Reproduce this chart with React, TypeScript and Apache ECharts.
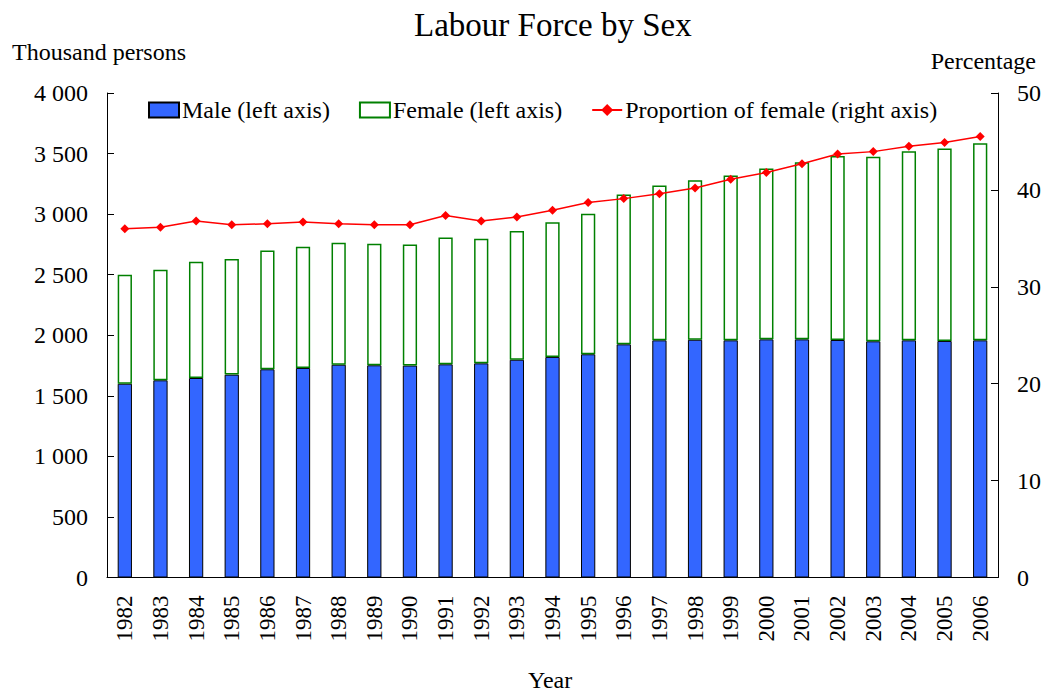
import React, { useEffect, useRef } from "react";
import * as echarts from "echarts";

const years = ["1982","1983","1984","1985","1986","1987","1988","1989","1990","1991","1992","1993","1994","1995","1996","1997","1998","1999","2000","2001","2002","2003","2004","2005","2006"];
const male = [1600,1628,1647,1675,1719,1730,1757,1752,1750,1760,1768,1798,1821,1843,1925,1958,1963,1958,1966,1966,1961,1950,1958,1953,1958];
const female = [900,913,960,954,981,1001,1007,1003,1000,1048,1029,1062,1111,1160,1237,1279,1317,1361,1411,1463,1518,1523,1562,1589,1628];
const proportion = [36.0,36.15,36.8,36.4,36.5,36.7,36.5,36.4,36.4,37.35,36.8,37.2,37.9,38.7,39.1,39.6,40.2,41.1,41.8,42.7,43.7,43.95,44.5,44.9,45.5];

const FONT = "'Liberation Serif', 'Times New Roman', serif";

function fmtThousands(v: number): string {
  const s = String(Math.round(v));
  return s.replace(/\B(?=(\d{3})+(?!\d))/g, " ");
}

export default function App() {
  const ref = useRef<HTMLDivElement>(null);
  useEffect(() => {
    if (!ref.current) return;
    const chart = echarts.init(ref.current, null, { renderer: "svg" });
    chart.setOption({
      animation: false,
      backgroundColor: "#fff",
      textStyle: { fontFamily: FONT, color: "#000" },
      title: {
        text: "Labour Force by Sex",
        left: 409,
        top: 3,
        textStyle: { fontFamily: FONT, fontSize: 33, fontWeight: "normal", color: "#000" },
      },
      graphic: [
        { type: "text", left: 12, top: 40, style: { text: "Thousand persons", font: `24px ${FONT}`, fill: "#000" } },
        { type: "text", right: 8, top: 49, style: { text: "Percentage", font: `24px ${FONT}`, fill: "#000" } },
        { type: "text", left: 528, top: 668, style: { text: "Year", font: `24px ${FONT}`, fill: "#000" } },
      ],
      legend: {
        top: 93,
        left: 143,
        itemGap: 29,
        itemWidth: 30,
        itemHeight: 15,
        textStyle: { fontFamily: FONT, fontSize: 24, color: "#000", padding: [0, 0, 0, -2] },
        data: [
          { name: "Male (left axis)", icon: "rect" },
          { name: "Female (left axis)", icon: "rect" },
          { name: "Proportion of female (right axis)" },
        ],
      },
      grid: { left: 107, right: 45, top: 93, bottom: 116.5, containLabel: false },
      xAxis: {
        type: "category",
        data: years,
        axisLine: { lineStyle: { color: "#000", width: 1 } },
        axisTick: { inside: true, length: 5, lineStyle: { color: "#000" } },
        axisLabel: { rotate: 90, fontFamily: FONT, fontSize: 23, color: "#000", margin: 18 },
      },
      yAxis: [
        {
          type: "value",
          min: 0,
          max: 4000,
          interval: 500,
          splitLine: { show: false },
          axisLine: { show: true, lineStyle: { color: "#000" } },
          axisTick: { show: true, inside: true, length: 7, lineStyle: { color: "#000" } },
          axisLabel: { fontFamily: FONT, fontSize: 24, color: "#000", margin: 19, formatter: (v: number) => fmtThousands(v) },
        },
        {
          type: "value",
          min: 0,
          max: 50,
          interval: 10,
          position: "right",
          splitLine: { show: false },
          axisLine: { show: true, lineStyle: { color: "#000" } },
          axisTick: { show: true, inside: true, length: 7, lineStyle: { color: "#000" } },
          axisLabel: { fontFamily: FONT, fontSize: 24, color: "#000", margin: 19 },
        },
      ],
      series: [
        {
          name: "Male (left axis)",
          type: "bar",
          stack: "lf",
          data: male,
          barWidth: "40%",
          itemStyle: { color: "#3366ff", borderColor: "#000", borderWidth: 1 },
        },
        {
          name: "Female (left axis)",
          type: "bar",
          stack: "lf",
          data: female,
          barWidth: "40%",
          itemStyle: { color: "#fff", borderColor: "#008000", borderWidth: 1.5 },
        },
        {
          name: "Proportion of female (right axis)",
          type: "line",
          yAxisIndex: 1,
          data: proportion,
          symbol: "diamond",
          symbolSize: 9,
          lineStyle: { color: "#ff0000", width: 1.5 },
          itemStyle: { color: "#ff0000" },
        },
      ],
    });
    return () => chart.dispose();
  }, []);
  return <div ref={ref} style={{ width: 1044, height: 694, position: "fixed", left: 0, top: 0 }} />;
}
